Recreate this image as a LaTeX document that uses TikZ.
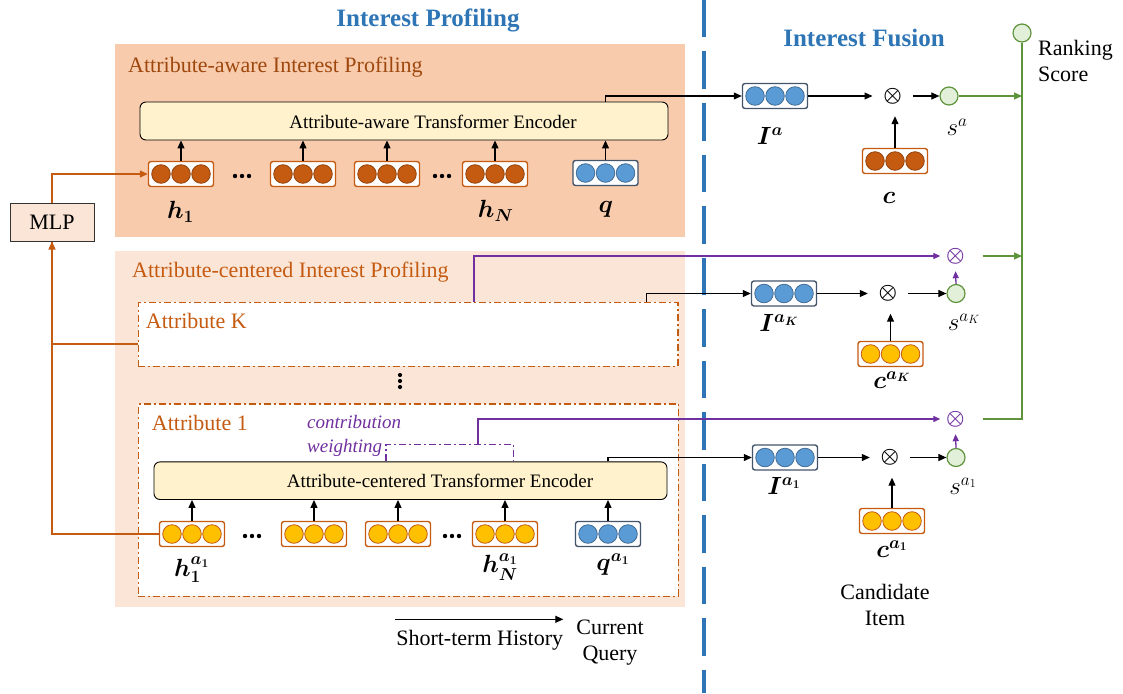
\documentclass[tikz,border=0pt]{standalone}
\usepackage{fontspec}
\setmainfont{Liberation Serif}
\usepackage{amsmath,bm}
\usetikzlibrary{arrows.meta,positioning}
\definecolor{peachdark}{HTML}{F8CBAD}
\definecolor{peachlight}{HTML}{FBE5D6}
\definecolor{rust}{HTML}{C55A11}
\definecolor{sun}{HTML}{FFC000}
\definecolor{sky}{HTML}{5B9BD5}
\definecolor{slate}{HTML}{44546A}
\definecolor{plum}{HTML}{7030A0}
\definecolor{leaf}{HTML}{70AD47}
\definecolor{mint}{HTML}{E2F0D9}
\definecolor{cream}{HTML}{FFF2CC}
\definecolor{ocean}{HTML}{2E75B6}
\newcommand{\EmbVec}[6]{%
  \node[embbox, draw=#6] (#1) at (#2,#3) {};
  \foreach \dx in {-20,0,20}
    \filldraw[fill=#4, draw=#5, line width=.8pt] ([xshift=\dx pt]#1.center) circle (9.3pt);
}
\newcommand{\DotRow}[1]{%
  \foreach \dx in {-7,0,7}
    \fill ([xshift=\dx pt]#1) circle (2.2pt);
}
\tikzset{
  region/.style={rectangle, anchor=north west, draw=none, inner sep=0pt},
  embbox/.style={rectangle, rounded corners=2.5pt, fill=white, line width=1.4pt,
    minimum width=65pt, minimum height=25pt, inner sep=0pt},
  encbox/.style={rectangle, rounded corners=6pt, draw=black, fill=cream, line width=.9pt, inner sep=0pt},
  enctext/.style={font=\fontsize{19}{22}\selectfont},
  attrbox/.style={rectangle, anchor=north west, draw=rust, fill=white, line width=1.5pt,
    dash pattern=on 7pt off 3pt on 2pt off 3pt, inner sep=0pt},
  attrlabel/.style={anchor=west, text=rust},
  titletext/.style={font=\fontsize{25}{30}\selectfont\bfseries, text=ocean},
  mathlab/.style={font=\fontsize{25}{30}\selectfont},
  arr/.style={-{Triangle[length=8pt,width=7pt]}, line width=1.1pt},
  mlparr/.style={-{Triangle[length=8pt,width=7pt]}, line width=1.3pt, draw=rust},
  mlpline/.style={line width=1.3pt, draw=rust},
  purarr/.style={-{Triangle[length=7pt,width=6pt]}, line width=1.3pt, draw=plum},
  greenarr/.style={-{Triangle[length=8pt,width=7pt]}, line width=1.3pt, draw=leaf!85!black},
  greenline/.style={line width=1.3pt, draw=leaf!85!black},
  mul/.style={circle, minimum size=40pt, inner sep=0pt, font=\fontsize{20}{24}\selectfont},
  pmul/.style={circle, minimum size=30pt, inner sep=0pt, text=plum, font=\fontsize{20}{24}\selectfont},
  score/.style={circle, minimum size=18pt, inner sep=0pt, fill=mint, draw=leaf!85!black, line width=1.2pt},
}
\begin{document}
\begin{tikzpicture}[x=1pt,y=-1pt,font=\fontsize{22}{26}\selectfont,inner sep=0pt]
  \useasboundingbox (0,0) rectangle (1123,693);
  \node[region, fill=peachdark, minimum width=570pt, minimum height=193pt] (awarereg) at (115,44) {};
  \node[region, fill=peachlight, minimum width=570pt, minimum height=355.7pt] (centreg) at (115,251) {};
  \draw[ocean, line width=4.5pt, dash pattern=on 37.5pt off 14pt] (704,0) -- (704,693);
  \node[titletext] (proftitle) at (428,20) {Interest Profiling};
  \node[titletext] (fustitle) at (864,38) {Interest Fusion};
  \node[attrlabel, text=rust!80!black] (awaretitle) at (128,67) {Attribute-aware Interest Profiling};
  \node[attrlabel] (centtitle) at (132,271.7) {Attribute-centered Interest Profiling};

  \node[encbox, minimum width=528pt, minimum height=38pt] (awareenc) at (404,121) {};
  \node[enctext] at (433,121.5) {Attribute-aware Transformer Encoder};
  \foreach \n/\x in {h1/181,h2/303,h3/387,hN/495} {
    \EmbVec{\n}{\x}{174}{rust}{rust!75!black}{rust}
  }
  \EmbVec{q}{605.5}{173}{sky}{sky!70!black}{slate}
  \foreach \n in {h1,h2,h3,hN,q} {
    \draw[arr] (\n.north) -- (\n.north |- awareenc.south);
  }
  \coordinate (dotsa) at (242,176);
  \coordinate (dotsb) at (442,176);
  \DotRow{dotsa}
  \DotRow{dotsb}
  \node[mathlab] (h1lab) at (180.5,212) {$\bm{h_1}$};
  \node[mathlab] (hNlab) at (495.7,211) {$\bm{h_N}$};
  \node[mathlab] (qlab) at (605.7,209) {$\bm{q}$};

  \node[attrbox, minimum width=539.3pt, minimum height=64pt] (attK) at (137.7,301.7) {};
  \node[attrlabel] (attKlab) at (145.7,321) {Attribute K};
  \coordinate (vdots) at (400,381);
  \foreach \dy in {-6,0,6} {
    \fill ([yshift=\dy pt]vdots) circle (2.1pt);
  }
  \node[attrbox, minimum width=540pt, minimum height=192.4pt] (att1) at (137.7,403.3) {};
  \node[attrlabel] (att1lab) at (151.7,423.3) {Attribute 1};
  \node[anchor=west, align=left, text=plum, font=\fontsize{19}{23.4}\selectfont\itshape] (cwlab) at (307,436) {contribution\\weighting};

  \node[encbox, minimum width=513pt, minimum height=37.6pt] (centenc) at (410.5,480.7) {};
  \node[enctext] at (440,481) {Attribute-centered Transformer Encoder};
  \foreach \n/\x in {h1a/192,h2a/314,h3a/398,hNa/505} {
    \EmbVec{\n}{\x}{534}{sun}{rust}{rust}
  }
  \EmbVec{qa}{608}{534}{sky}{sky!70!black}{slate}
  \foreach \n in {h1a,h2a,h3a,hNa,qa} {
    \draw[arr] (\n.north) -- (\n.north |- centenc.south);
  }
  \coordinate (dotsc) at (252,536);
  \coordinate (dotsd) at (452,536);
  \DotRow{dotsc}
  \DotRow{dotsd}
  \node[mathlab] (h1alab) at (191.7,570) {$\bm{h_1^{a_1}}$};
  \node[mathlab] (hNalab) at (500,567) {$\bm{h_N^{a_1}}$};
  \node[mathlab] (qalab) at (613,565) {$\bm{q^{a_1}}$};

  \coordinate (cwl) at (386,444.3);
  \coordinate (cwr) at (513.3,444.3);
  \coordinate (cwmid) at (478,444.3);
  \draw[plum, line width=1.2pt, dash pattern=on 7pt off 3pt on 2pt off 3pt]
    (cwl |- centenc.north) -- (cwl) -- (cwr) -- (cwr |- centenc.north);

  \node[rectangle, fill=peachlight, draw=black!80, line width=1pt, minimum width=84pt, minimum height=38pt] (mlp) at (52,222) {MLP};
  \draw[mlparr] (mlp.north) |- (h1.west);
  \draw[mlpline] ([yshift=-9.6pt]attK.west) -| (mlp.south);
  \draw[mlparr] (h1a.west) -| (mlp.south);

  \EmbVec{Ia}{775}{96}{sky}{sky!70!black}{slate}
  \EmbVec{c}{895}{161}{rust}{rust!75!black}{rust}
  \EmbVec{IaK}{784}{293.5}{sky}{sky!70!black}{slate}
  \EmbVec{caK}{890.5}{354}{sun}{rust}{rust}
  \EmbVec{Ia1}{785}{457.5}{sky}{sky!70!black}{slate}
  \EmbVec{ca1}{892}{521}{sun}{rust}{rust}
  \node[mul] (mulA) at (892.7,96) {$\bm{\otimes}$};
  \node[mul] (mulK) at (888,293.5) {$\bm{\otimes}$};
  \node[mul] (mul1) at (890,457.5) {$\bm{\otimes}$};
  \node[pmul] (pK) at (955.5,256) {$\bm{\otimes}$};
  \node[pmul] (p1) at (955.5,419) {$\bm{\otimes}$};
  \node[score] (sA) at (949,96) {};
  \node[score] (sK) at (956,293.5) {};
  \node[score] (s1) at (956,457.5) {};
  \node[score] (rank) at (1022,33) {};

  \draw[arr] (awareenc.north -| q) |- (Ia.west);
  \draw[arr] ([xshift=238pt]attK.north) |- (IaK.west);
  \draw[arr] (centenc.north -| qa) |- (Ia1.west);
  \draw[purarr] ([xshift=66pt]attK.north) |- (pK.west);
  \draw[purarr] (cwmid) |- (p1.west);
  \foreach \v/\m/\s/\cv in {Ia/mulA/sA/c,IaK/mulK/sK/caK,Ia1/mul1/s1/ca1} {
    \draw[arr] (\v.east) -- (\m.west);
    \draw[arr] (\m.east) -- (\s.west);
    \draw[arr] (\cv.north) -- (\cv.north |- \m.south);
  }
  \draw[purarr] (sK.north) -- (pK.south);
  \draw[purarr] (s1.north) -- (p1.south);
  \draw[greenarr] (sA.east) -- (sA -| rank);
  \draw[greenarr] ([xshift=12pt]pK.east) -- (pK -| rank);
  \draw[greenline] ([xshift=12pt]p1.east) -| (rank.south);

  \node[mathlab] (Ialab) at (770,136) {$\bm{I^{a}}$};
  \node[mathlab] (sAlab) at (957,127) {$s^{a}$};
  \node[mathlab] (clab) at (889,198) {$\bm{c}$};
  \node[mathlab] (IaKlab) at (779,323) {$\bm{I^{a_K}}$};
  \node[mathlab] (sKlab) at (964,322) {$s^{a_K}$};
  \node[mathlab] (caKlab) at (892,380) {$\bm{c^{a_K}}$};
  \node[mathlab] (Ia1lab) at (784,486) {$\bm{I^{a_1}}$};
  \node[mathlab] (s1lab) at (963,486) {$s^{a_1}$};
  \node[mathlab] (ca1lab) at (892,549) {$\bm{c^{a_1}}$};
  \node[anchor=west, align=left] (ranklab) at (1038,61) {Ranking\\Score};
  \node[align=center] (candlab) at (885,605) {Candidate\\Item};

  \coordinate (histstart) at (395,619.3);
  \coordinate (histend) at (563.3,619.3);
  \draw[arr] (histstart) -- (histend);
  \node (histlab) at (479.7,640.7) {Short-term History};
  \node[align=center] (querylab) at (610,643) {Current\\Query};
\end{tikzpicture}
\end{document}
